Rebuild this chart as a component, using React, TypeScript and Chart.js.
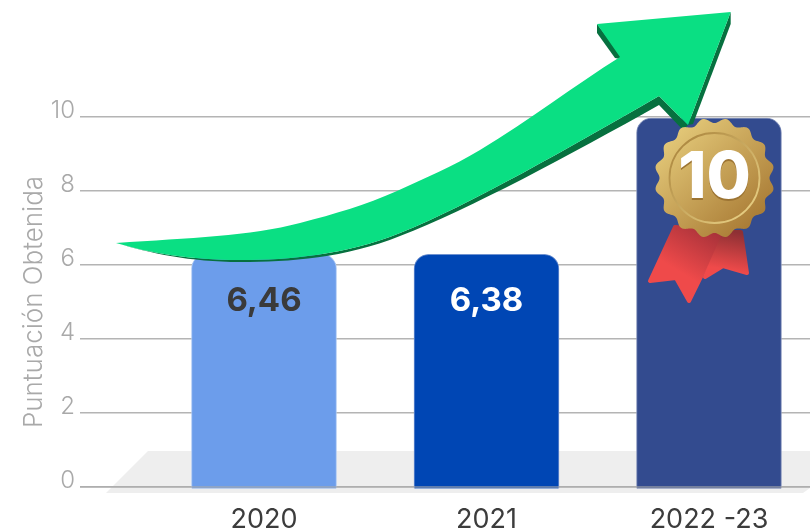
import React, { useEffect, useRef } from "react";
import { Chart, registerables } from "chart.js";

Chart.register(...registerables);

const categories = ["2020", "2021", "2022 -23"];
const positions = [0, 1, 2];
const barTops = [6.3, 6.29, 9.97];
const valueLabels = ["6,46", "6,38"];
const valueLabelColors = ["#3a3a3a", "#ffffff"];
const medalLabel = "10";
const barColors = ["#6c9deb", "#0046b4", "#334b8f"];
const barEdges = ["#a9c6f3", "#6f92d0", "#8694bd"];
const yTitle = "Puntuación Obtenida";
const FONT = "Inter, 'Open Sans', sans-serif";

const poly = (ctx: CanvasRenderingContext2D, pts: number[][]) => {
  ctx.beginPath();
  pts.forEach((p, i) => (i ? ctx.lineTo(p[0], p[1]) : ctx.moveTo(p[0], p[1])));
  ctx.closePath();
};

const floorPlugin = {
  id: "floor",
  beforeDraw(chart: any) {
    const ctx = chart.ctx;
    ctx.save();
    ctx.fillStyle = "#eeeeee";
    poly(ctx, [[148, 451], [810, 451], [810, 488], [803, 493], [106, 493]]);
    ctx.fill();
    ctx.restore();
  },
};

const overlayPlugin = {
  id: "overlay",
  afterDatasetsDraw(chart: any) {
    const ctx = chart.ctx as CanvasRenderingContext2D;
    const y = chart.scales.y;
    const bars = chart.getDatasetMeta(0).data;
    ctx.save();

    // baseline passes over the bars
    ctx.strokeStyle = "rgba(170,170,170,0.75)";
    ctx.lineWidth = 1.5;
    ctx.beginPath();
    ctx.moveTo(chart.chartArea.left, y.getPixelForValue(0));
    ctx.lineTo(chart.chartArea.right, y.getPixelForValue(0));
    ctx.stroke();

    // value labels
    ctx.textAlign = "center";
    ctx.textBaseline = "middle";
    ctx.font = `700 33px ${FONT}`;
    valueLabels.forEach((t, i) => {
      ctx.fillStyle = valueLabelColors[i];
      ctx.fillText(t, bars[i].x, 301);
    });

    // arrow, dark side
    ctx.fillStyle = "#07703f";
    poly(ctx, [[597, 24], [597, 33], [615, 58], [625, 60]]);
    ctx.fill();
    poly(ctx, [[730.7, 12], [730.7, 24], [693, 124], [688, 125]]);
    ctx.fill();
    ctx.beginPath();
    ctx.moveTo(116, 243);
    ctx.bezierCurveTo(150, 253, 190, 262, 240, 262);
    ctx.bezierCurveTo(290, 262, 345, 258, 400, 236);
    ctx.bezierCurveTo(470, 209, 570, 155, 659, 105);
    ctx.lineTo(683, 130);
    ctx.lineTo(688, 125);
    ctx.lineTo(659, 96);
    ctx.bezierCurveTo(570, 147, 470, 205, 400, 233);
    ctx.bezierCurveTo(345, 255, 290, 260, 240, 260);
    ctx.bezierCurveTo(190, 260, 150, 253, 116, 243);
    ctx.closePath();
    ctx.fill();

    // arrow, face
    ctx.fillStyle = "#0adf83";
    ctx.beginPath();
    ctx.moveTo(116, 243);
    ctx.bezierCurveTo(190, 238, 250, 236, 300, 223);
    ctx.bezierCurveTo(335, 214, 365, 205, 397, 191);
    ctx.bezierCurveTo(425, 178, 452, 167, 480, 150);
    ctx.bezierCurveTo(530, 120, 575, 85, 620, 57);
    ctx.lineTo(597, 24);
    ctx.lineTo(730.7, 12);
    ctx.lineTo(688, 125);
    ctx.lineTo(659, 96);
    ctx.bezierCurveTo(570, 147, 470, 205, 400, 233);
    ctx.bezierCurveTo(345, 255, 290, 260, 240, 260);
    ctx.bezierCurveTo(190, 260, 150, 253, 116, 243);
    ctx.closePath();
    ctx.fill();

    // ribbon
    ctx.lineJoin = "round";
    ctx.lineWidth = 4;
    const g1 = ctx.createLinearGradient(712, 230, 685, 275);
    g1.addColorStop(0, "#a8323a");
    g1.addColorStop(1, "#ef4a4a");
    ctx.fillStyle = g1;
    ctx.strokeStyle = g1;
    poly(ctx, [[675, 227], [650, 281], [676, 278], [689, 301], [724, 230]]);
    ctx.fill();
    ctx.stroke();
    const g2 = ctx.createLinearGradient(735, 232, 728, 270);
    g2.addColorStop(0, "#8e3034");
    g2.addColorStop(1, "#ef4a4a");
    ctx.fillStyle = g2;
    ctx.strokeStyle = g2;
    poly(ctx, [[725, 232], [741, 232], [747, 273], [723, 266], [705, 277]]);
    ctx.fill();
    ctx.stroke();

    // medal
    const cx = 714.5;
    const cy = 178;
    const grad = ctx.createLinearGradient(cx - 42, cy - 45, cx + 42, cy + 45);
    grad.addColorStop(0, "#e3c878");
    grad.addColorStop(1, "#a97b35");
    ctx.fillStyle = grad;
    ctx.beginPath();
    for (let k = 0; k <= 360; k++) {
      const a = (k * Math.PI) / 180;
      const r = 57.5 - 2.5 * Math.cos(16 * a);
      const px = cx + r * Math.cos(a);
      const py = cy + r * Math.sin(a);
      if (k) ctx.lineTo(px, py);
      else ctx.moveTo(px, py);
    }
    ctx.closePath();
    ctx.fill();

    const ring = ctx.createLinearGradient(cx - 35, cy - 35, cx + 35, cy + 35);
    ring.addColorStop(0, "#ad8840");
    ring.addColorStop(1, "#e6cd82");
    ctx.strokeStyle = ring;
    ctx.lineWidth = 1.8;
    ctx.beginPath();
    ctx.arc(cx, cy, 45, 0, Math.PI * 2);
    ctx.stroke();

    ctx.font = `800 64px ${FONT}`;
    ctx.fillStyle = "#9c7433";
    ctx.fillText(medalLabel, cx, cy + 3);
    ctx.fillStyle = "#ffffff";
    ctx.fillText(medalLabel, cx, cy + 1);

    ctx.restore();
  },
};

export default function App() {
  const ref = useRef<HTMLCanvasElement>(null);

  useEffect(() => {
    document.body.style.margin = "0";
    const chart = new Chart(ref.current as HTMLCanvasElement, {
      type: "bar",
      data: {
        datasets: [
          {
            data: positions.map((x, i) => ({ x, y: [-0.04, barTops[i]] })) as any,
            backgroundColor: barColors,
            borderColor: barEdges,
            borderWidth: 1,
            borderSkipped: "start",
            borderRadius: { topLeft: 15, topRight: 15, bottomLeft: 0, bottomRight: 0 },
            barThickness: 145,
            clip: false as any,
          },
        ],
      },
      options: {
        responsive: false,
        animation: false,
        devicePixelRatio: 1,
        layout: { padding: { top: 117, left: 0, right: 0, bottom: 0 } },
        plugins: { legend: { display: false }, tooltip: { enabled: false } },
        scales: {
          x: {
            type: "linear",
            offset: false,
            min: -0.827,
            max: 2.454,
            afterBuildTicks: (s: any) => {
              s.ticks = positions.map((value) => ({ value }));
            },
            afterFit: (s: any) => {
              s.height = 41;
            },
            grid: { display: false },
            border: { display: false },
            ticks: {
              callback: (v: any) => categories[v as number],
              color: "#3c3c3c",
              font: { family: FONT, size: 27, weight: 400 },
              padding: 9,
              maxRotation: 0,
              autoSkip: false,
            },
          },
          y: {
            min: 0,
            max: 10,
            afterFit: (s: any) => {
              s.width = 80;
            },
            grid: { color: "#b4b4b4", lineWidth: 1.5, drawTicks: false },
            border: { display: false },
            ticks: {
              stepSize: 2,
              color: "#a9a9a9",
              font: { family: FONT, size: 24, weight: 300 },
              padding: 5,
              labelOffset: -6,
            } as any,
            title: {
              display: true,
              text: yTitle,
              color: "#a9a9a9",
              font: { family: FONT, size: 26, weight: 300 },
              padding: { top: 19, bottom: 0 },
            },
          },
        },
      },
      plugins: [floorPlugin, overlayPlugin],
    } as any);
    return () => chart.destroy();
  }, []);

  return (
    <canvas
      ref={ref}
      width={810}
      height={528}
      style={{ display: "block", width: 810, height: 528 }}
    />
  );
}
